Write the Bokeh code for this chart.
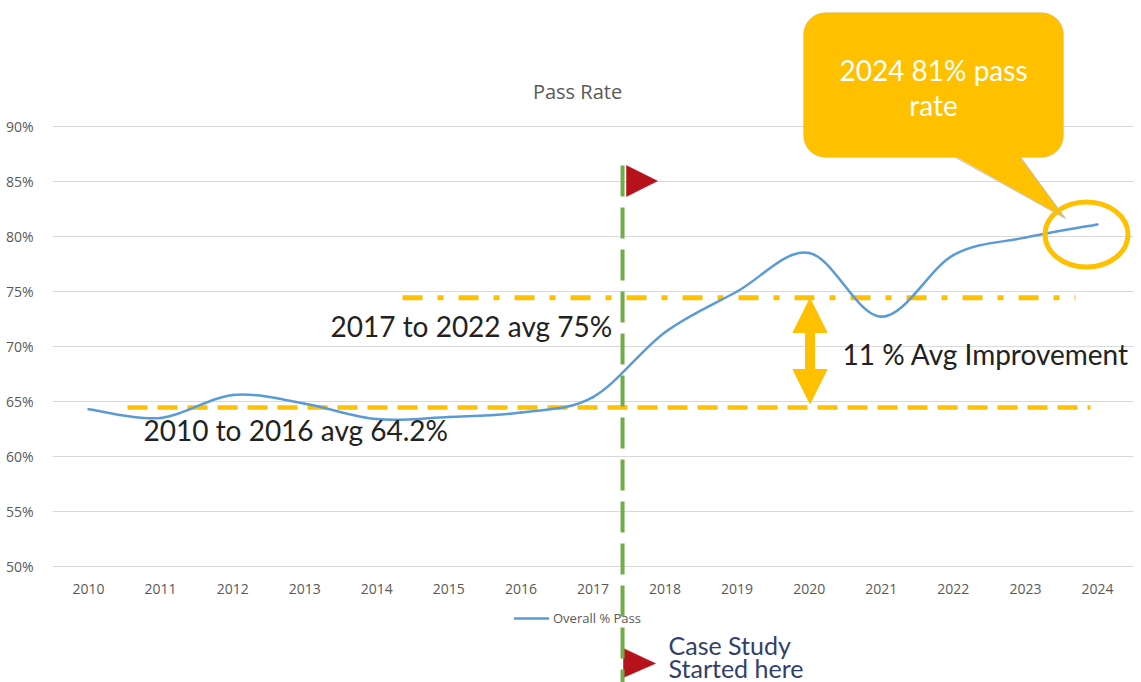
from bokeh.plotting import figure
from bokeh.models import (Range1d, FixedTicker, PrintfTickFormatter, Legend, LegendItem,
                          BoxAnnotation, Arrow, NormalHead)
from bokeh.core.properties import value
from bokeh.embed import file_html
from bokeh.resources import INLINE

# ---------------- data ----------------
YEARS = [2010, 2011, 2012, 2013, 2014, 2015, 2016, 2017, 2018, 2019, 2020, 2021, 2022, 2023, 2024]
YEAR_LABELS = ["2010", "2011", "2012", "2013", "2014", "2015", "2016", "2017",
               "2018", "2019", "2020", "2021", "2022", "2023", "2024"]
PASS_RATE = [64.3, 63.5, 65.6, 64.8, 63.4, 63.6, 64.0, 65.4, 71.3, 75.0, 78.5, 72.7, 78.3, 79.9, 81.1]
Y_TICKS = [50, 55, 60, 65, 70, 75, 80, 85, 90]
SERIES_NAME = "Overall % Pass"
TITLE = "Pass Rate"
BEFORE_LEVEL = 64.45   # drawn level of the 2010-2016 average line
AFTER_LEVEL = 74.43    # drawn level of the 2017-2022 average line
CASE_STUDY_YEAR = 2017.41
LABEL_BEFORE = "2010 to 2016 avg 64.2%"
LABEL_AFTER = "2017 to 2022 avg 75%"
LABEL_IMPROVE = "11 % Avg Improvement"
CALLOUT_LINES = ["2024 81% pass", "rate"]
CASE_LINES = ["Case Study", "Started here"]

# ---------------- geometry helpers (reference pixels -> data) ----------------
W, H = 1141, 682
PXX = 1081 / 15.0
PXY = 11.0
def sx(px):
    return 2009.5 + (px - 52) / PXX
def sy(py):
    return 90 - (py - 126) / PXY

p = figure(width=W, height=H, output_backend="svg", toolbar_location=None,
           x_range=Range1d(2009.5, 2024.5), y_range=Range1d(sy(H), sy(0)),
           min_border_left=52, min_border_right=8, min_border_top=0, min_border_bottom=0)
p.outline_line_color = None
p.background_fill_color = "white"

# axes
p.yaxis.ticker = FixedTicker(ticks=Y_TICKS)
p.yaxis.formatter = PrintfTickFormatter(format="%d%%")
p.yaxis.axis_line_color = None
p.yaxis.major_tick_line_color = None
p.yaxis.minor_tick_line_color = None
p.yaxis.major_label_standoff = 13
p.yaxis.major_label_text_font = "Open Sans"
p.yaxis.major_label_text_font_size = "14px"
p.yaxis.major_label_text_color = "#595959"

p.xaxis.ticker = FixedTicker(ticks=YEARS)
p.xaxis.major_label_overrides = {y: l for y, l in zip(YEARS, YEAR_LABELS)}
p.xaxis.fixed_location = Y_TICKS[0]
p.xaxis.axis_line_color = None
p.xaxis.major_tick_line_color = None
p.xaxis.minor_tick_line_color = None
p.xaxis.major_label_standoff = 11
p.xaxis.major_label_text_font = "Open Sans"
p.xaxis.major_label_text_font_size = "14px"
p.xaxis.major_label_text_color = "#595959"

p.ygrid.ticker = FixedTicker(ticks=Y_TICKS)
p.ygrid.grid_line_color = "#D9D9D9"
p.ygrid.grid_line_width = 1
p.xgrid.visible = False

# title
p.text(x=[sx(577)], y=[sy(91)], text=[TITLE], text_font=value("Open Sans"),
       text_font_size="20px", text_color="#595959", text_align="center",
       text_baseline="alphabetic")

# average lines
p.line(x=[sx(127), sx(1090)], y=[BEFORE_LEVEL, BEFORE_LEVEL], line_color="#FFC000",
       line_width=4.5, line_dash="20 10")
p.line(x=[sx(402), sx(1075)], y=[AFTER_LEVEL, AFTER_LEVEL], line_color="#FFC000",
       line_width=5, line_dash="20 15 6 15")

# smoothed series (cubic Bezier segments built from the data points)
n = len(YEARS)
x0s, y0s, x1s, y1s, cx0s, cy0s, cx1s, cy1s = [], [], [], [], [], [], [], []
for i in range(n - 1):
    a = max(i - 1, 0)
    d = min(i + 2, n - 1)
    x0s.append(YEARS[i]); y0s.append(PASS_RATE[i])
    x1s.append(YEARS[i + 1]); y1s.append(PASS_RATE[i + 1])
    cx0s.append(YEARS[i] + (YEARS[i + 1] - YEARS[a]) / 6.0)
    cy0s.append(PASS_RATE[i] + (PASS_RATE[i + 1] - PASS_RATE[a]) / 6.0)
    cx1s.append(YEARS[i + 1] - (YEARS[d] - YEARS[i]) / 6.0)
    cy1s.append(PASS_RATE[i + 1] - (PASS_RATE[d] - PASS_RATE[i]) / 6.0)
curve = p.bezier(x0=x0s, y0=y0s, x1=x1s, y1=y1s, cx0=cx0s, cy0=cy0s, cx1=cx1s, cy1=cy1s,
                 line_color="#5B9BD5", line_width=2.5, line_cap="round")

# case study vertical line + flags
green = p.line(x=[CASE_STUDY_YEAR, CASE_STUDY_YEAR], y=[sy(165), sy(700)],
               line_color="#70AD47", line_width=4, line_dash="31 11")
green.level = "overlay"
p.patch(x=[sx(626), sx(657), sx(626)], y=[sy(165), sy(180.5), sy(196)],
        fill_color="#B5121B", line_color="#B5121B", line_width=0.5)
p.patch(x=[sx(623), sx(655), sx(623)], y=[sy(648), sy(663), sy(677)],
        fill_color="#B5121B", line_color="#B5121B", line_width=0.5)

# texts
p.text(x=[sx(143), sx(330)], y=[sy(429), sy(325)],
       text=[LABEL_BEFORE, LABEL_AFTER], text_font=value("Lato"),
       text_font_size="28px", text_color="#222222", text_align="left",
       text_baseline="alphabetic")
p.text(x=[sx(842)], y=[sy(353)], text=[LABEL_IMPROVE], text_font=value("Lato"),
       text_font_size="28px", text_color="#222222", text_align="left",
       text_baseline="alphabetic")
p.text(x=[sx(668), sx(668)], y=[sy(644), sy(667)], text=CASE_LINES,
       text_font=value("Lato"), text_font_size="25px", text_color="#323F6B",
       text_align="left", text_baseline="alphabetic")

# improvement arrow
arrow = Arrow(x_start=sx(809.5), y_start=sy(403), x_end=sx(809.5), y_end=sy(298),
              line_color="#FFC000", line_width=10,
              start=NormalHead(size=34, fill_color="#FFC000", line_color="#FFC000"),
              end=NormalHead(size=34, fill_color="#FFC000", line_color="#FFC000"))
p.add_layout(arrow)

# highlight ellipse
p.ellipse(x=[sx(1086)], y=[sy(234)], width=[83 / PXX], height=[65 / PXY],
          fill_color=None, line_color="#FFC000", line_width=5)

# callout
box = BoxAnnotation(left=sx(803), right=sx(1063), top=sy(12), bottom=sy(157),
                    fill_color="#FFC000", fill_alpha=1.0, line_color="#BFBFBF",
                    line_width=1, border_radius=22)
p.add_layout(box)
tail = p.patch(x=[sx(955), sx(1065), sx(1020), sx(1020), sx(955)],
               y=[sy(156), sy(218), sy(156), sy(150), sy(150)],
               fill_color="#FFC000", line_color=None)
tail.level = "overlay"
t1 = p.line(x=[sx(955), sx(1065)], y=[sy(157), sy(218)], line_color="#BFBFBF", line_width=1)
t2 = p.line(x=[sx(1020), sx(1065)], y=[sy(157), sy(218)], line_color="#BFBFBF", line_width=1)
t1.level = "overlay"
t2.level = "overlay"
ct = p.text(x=[sx(933), sx(933)], y=[sy(69), sy(104)], text=CALLOUT_LINES,
            text_font=value("Lato"), text_font_size="28px", text_color="white",
            text_align="center", text_baseline="alphabetic")
ct.level = "overlay"

# legend
legend = Legend(items=[LegendItem(label=SERIES_NAME, renderers=[curve])],
                location=(462, 55), orientation="horizontal",
                padding=0, margin=0, spacing=0, label_standoff=4,
                glyph_width=35, glyph_height=16, label_height=16,
                border_line_color=None, background_fill_alpha=0,
                label_text_font="Open Sans", label_text_font_size="13px",
                label_text_color="#595959")
p.add_layout(legend)

open("out.html", "w").write(file_html(p, INLINE))
